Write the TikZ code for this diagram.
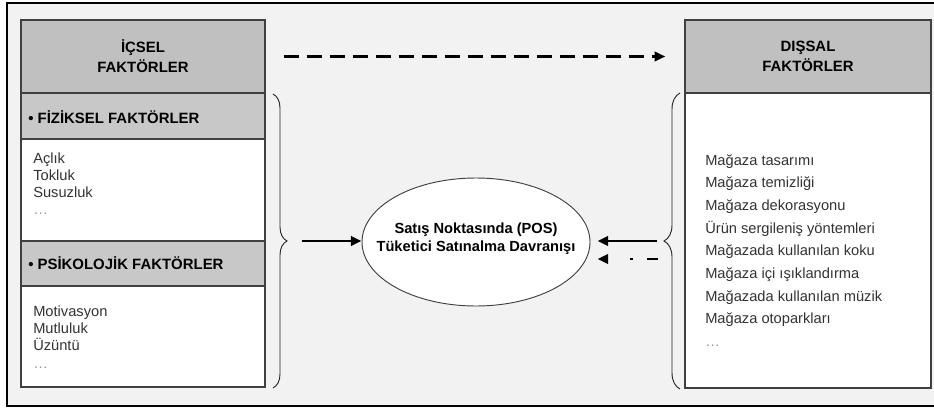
\documentclass[tikz,border=0pt]{standalone}
\usepackage{fontspec}
\setmainfont{Liberation Sans}
\usetikzlibrary{arrows.meta,shapes.geometric,decorations.pathreplacing}
\definecolor{framebg}{HTML}{F2F2F2}
\definecolor{headgray}{HTML}{C0C0C0}
\definecolor{subgray}{HTML}{C8C8C8}
\definecolor{boxline}{HTML}{404040}
\definecolor{itemtext}{HTML}{333333}
\begin{document}
\begin{tikzpicture}[x=0.75pt, y=-0.75pt, >={Triangle[length=8pt,width=7pt]},
	headbox/.style={draw=boxline, fill=headgray, line width=1pt, minimum height=54.75pt, inner sep=0pt, align=center, font=\bfseries\fontsize{11.2}{15}\selectfont},
	subbox/.style={draw=boxline, fill=subgray, line width=1pt},
	bodybox/.style={draw=boxline, fill=white, line width=1pt},
	subtitle/.style={anchor=west, inner sep=0pt, font=\bfseries\fontsize{11.2}{13.5}\selectfont},
	item/.style={anchor=base west, inner sep=0pt, text=itemtext, font=\fontsize{11}{13}\selectfont},
	dots/.style={item, text=itemtext!50},
	bracket/.style={decorate, decoration={brace, amplitude=#1}, draw=black!85, line width=0.7pt},
	flow/.style={->, line width=2.2pt}]
	\useasboundingbox (0,0) rectangle (934,407);
	\fill[framebg] (7,3) rectangle (934,406);
	\draw[line width=0.9pt] (934,3) -- (7,3) -- (7,406) -- (934,406);
	% left column
	\node[headbox, minimum width=183pt] (ic) at (143,56.5) {İÇSEL\\FAKTÖRLER};
	\draw[subbox] (21,93) rectangle (265,139);
	\draw[bodybox] (21,139) rectangle (265,241);
	\draw[subbox] (21,241) rectangle (265,286);
	\draw[bodybox] (21,286) rectangle (265,387);
	\node[subtitle] (fiz) at (28,117) {• FİZİKSEL FAKTÖRLER};
	\node[subtitle] (psi) at (28,263) {• PSİKOLOJİK FAKTÖRLER};
	\foreach \t [count=\i from 0] in {Açlık,Tokluk,Susuzluk}
		\node[item] (f\i) at (33,163.5+17*\i) {\t};
	\node[dots] (f3) at (33,214) {\ldots};
	\foreach \t [count=\i from 0] in {Motivasyon,Mutluluk,Üzüntü}
		\node[item] (p\i) at (33,316.5+17*\i) {\t};
	\node[dots] (p3) at (33,368) {\ldots};
	% right column
	\node[headbox, minimum width=184.5pt] (dc) at (808,56.5) {DIŞSAL\\FAKTÖRLER};
	\draw[bodybox] (685,93) rectangle (931,388);
	\foreach \t [count=\i from 0] in {Mağaza tasarımı,Mağaza temizliği,Mağaza dekorasyonu,Ürün sergileniş yöntemleri,Mağazada kullanılan koku,Mağaza içi ışıklandırma,Mağazada kullanılan müzik,Mağaza otoparkları}
		\node[item] (d\i) at (705,165+22.7*\i) {\t};
	\node[dots] (d8) at (705,346.6) {\ldots};
	% centre
	\node[draw=boxline, fill=white, ellipse, line width=0.7pt, minimum width=171pt, minimum height=96pt, inner sep=0pt] (pos) at (476,242) {};
	\node[align=center, inner sep=0pt, font=\bfseries\fontsize{11}{13.5}\selectfont] (posl) at (476,239) {Satış Noktasında (POS)\\Tüketici Satınalma Davranışı};
	\draw[bracket=10.5pt] (273,94) -- (273,388);
	\draw[bracket=12pt] (680,389) -- (680,93);
	\coordinate (lt) at (287,241);
	\coordinate (rt) at (664,241);
	\coordinate (rd) at (658,259);
	\draw[flow, shorten <=11pt] (lt) -- (lt -| pos.west);
	\draw[flow, shorten <=5.25pt, shorten >=5.25pt] (rt) -- (rt -| pos.east);
	\draw[flow, dash pattern=on 8.25pt off 10.5pt on 2.25pt off 40pt, shorten >=5.25pt] (rd) -- (rd -| pos.east);
	\draw[flow, dash pattern=on 11.25pt off 6pt, shorten <=13.5pt, shorten >=14.25pt] (ic.east) -- (dc.west);
\end{tikzpicture}
\end{document}
